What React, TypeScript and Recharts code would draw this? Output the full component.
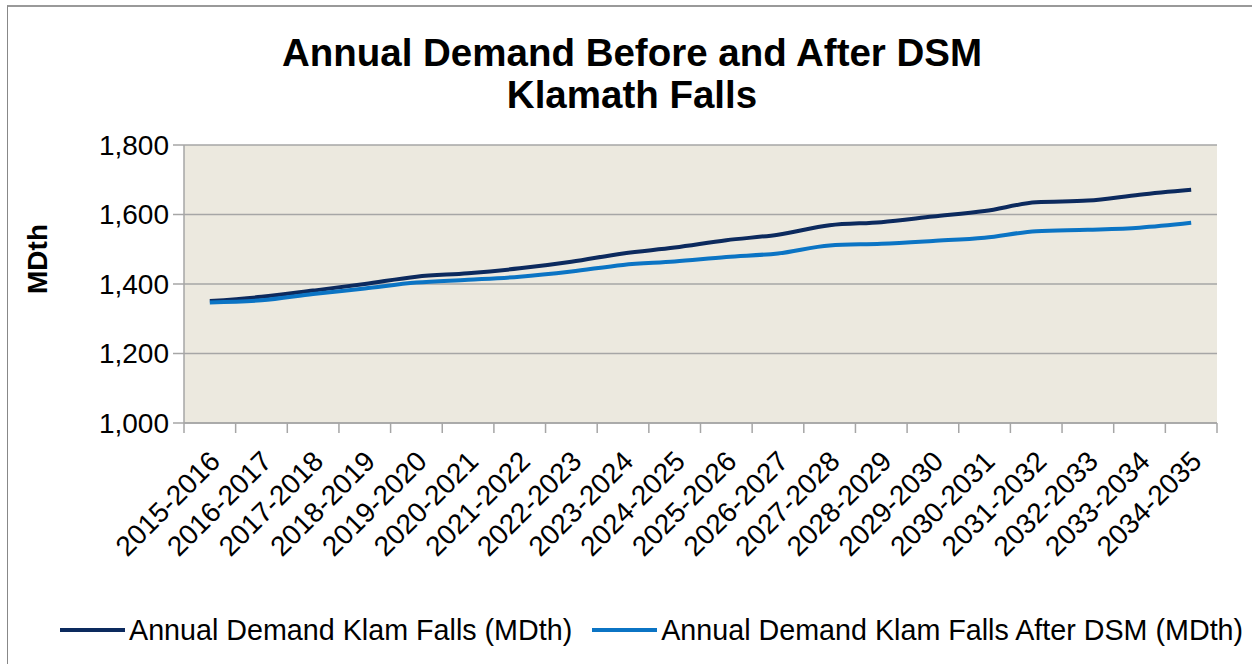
import { LineChart, Line, XAxis, YAxis, CartesianGrid, Legend } from 'recharts'

const periods = [
  '2015-2016', '2016-2017', '2017-2018', '2018-2019', '2019-2020',
  '2020-2021', '2021-2022', '2022-2023', '2023-2024', '2024-2025',
  '2025-2026', '2026-2027', '2027-2028', '2028-2029', '2029-2030',
  '2030-2031', '2031-2032', '2032-2033', '2033-2034', '2034-2035',
]

const demandBefore = [
  1351, 1363, 1381, 1400, 1421, 1431, 1445, 1464, 1488, 1505,
  1526, 1542, 1569, 1578, 1594, 1610, 1635, 1640, 1657, 1671,
]

const demandAfter = [
  1347, 1353, 1371, 1387, 1404, 1412, 1421, 1436, 1455, 1465,
  1478, 1488, 1511, 1516, 1524, 1533, 1552, 1556, 1562, 1576,
]

const yTicks = [1000, 1200, 1400, 1600, 1800]

const FONT = '"Liberation Sans", Arial, sans-serif'
const DARK = '#0C2A5E'
const LIGHT = '#0B74C4'
const GRID = '#A6A6A6'

const W = 1252
const H = 664
const PLOT_BOTTOM = 423
const HALF_BAND = (1217 - 184) / periods.length / 2

const data = periods.map((p, i) => ({
  period: p,
  before: demandBefore[i],
  after: demandAfter[i],
}))

const XTick = ({ x, payload, index }: any) => {
  const last = index === periods.length - 1
  return (
    <g>
      <line x1={x - HALF_BAND} y1={PLOT_BOTTOM} x2={x - HALF_BAND} y2={PLOT_BOTTOM + 10} stroke={GRID} strokeWidth={1.5} />
      {last && (
        <line x1={x + HALF_BAND} y1={PLOT_BOTTOM} x2={x + HALF_BAND} y2={PLOT_BOTTOM + 10} stroke={GRID} strokeWidth={1.5} />
      )}
      <text
        transform={`translate(${x + 12},${PLOT_BOTTOM + 40}) rotate(-45)`}
        textAnchor="end"
        fontSize={28}
        fontFamily={FONT}
        fill="#000"
      >
        {payload.value}
      </text>
    </g>
  )
}

const YLabel = () => (
  <text
    transform="translate(47,259) rotate(-90)"
    textAnchor="middle"
    fontSize={28}
    fontWeight="bold"
    fontFamily={FONT}
    fill="#000"
  >
    MDth
  </text>
)

const LegendContent = () => (
  <div
    style={{
      display: 'flex',
      justifyContent: 'flex-start',
      alignItems: 'center',
      height: 32,
      paddingLeft: 60,
      fontFamily: FONT,
      fontSize: 28.7,
      color: '#000',
      gap: 20,
      whiteSpace: 'nowrap',
    }}
  >
    <div style={{ display: 'flex', alignItems: 'center' }}>
      <span style={{ width: 65, height: 4, background: DARK, marginRight: 4 }} />
      Annual Demand Klam Falls (MDth)
    </div>
    <div style={{ display: 'flex', alignItems: 'center' }}>
      <span style={{ width: 65, height: 4, background: LIGHT, marginRight: 4 }} />
      Annual Demand Klam Falls After DSM (MDth)
    </div>
  </div>
)

export default function App() {
  return (
    <div style={{ position: 'absolute', top: 0, left: 0, width: W, height: H, background: '#fff', overflow: 'hidden' }}>
      {/* chart border (only top/left visible in the source) */}
      <div style={{ position: 'absolute', left: 7, top: 5, width: W, height: H, borderLeft: '1px solid #888', borderTop: '2px solid #999' }} />

      <div
        style={{
          position: 'absolute',
          left: 0,
          width: W + 12,
          top: 32,
          textAlign: 'center',
          fontFamily: FONT,
          fontWeight: 'bold',
          fontSize: 38.5,
          lineHeight: '42px',
          color: '#000',
        }}
      >
        Annual Demand Before and After DSM
        <br />
        Klamath Falls
      </div>

      <LineChart
        width={W}
        height={H}
        data={data}
        margin={{ top: 145, right: 35, left: 0, bottom: 0 }}
        style={{ position: 'absolute', top: 0, left: 0 }}
      >
        <CartesianGrid vertical={false} fill="#ECE9DF" stroke={GRID} strokeWidth={1.5} />
        <XAxis
          dataKey="period"
          interval={0}
          height={191}
          padding={{ left: HALF_BAND, right: HALF_BAND }}
          axisLine={{ stroke: GRID, strokeWidth: 1.5 }}
          tickLine={false}
          tick={<XTick />}
        />
        <YAxis
          width={184}
          domain={[1000, 1800]}
          ticks={yTicks}
          interval={0}
          tickFormatter={(v: number) => v.toLocaleString('en-US')}
          axisLine={{ stroke: GRID, strokeWidth: 1.5 }}
          tickLine={{ stroke: GRID, strokeWidth: 1.5 }}
          tickSize={11}
          tickMargin={4}
          tick={{ fontSize: 28, fontFamily: FONT, fill: '#000' }}
          label={{ content: <YLabel /> }}
        />
        <Legend verticalAlign="bottom" height={50} content={<LegendContent />} />
        <Line
          type="monotone"
          dataKey="before"
          name="Annual Demand Klam Falls (MDth)"
          stroke={DARK}
          strokeWidth={4}
          dot={false}
          isAnimationActive={false}
        />
        <Line
          type="monotone"
          dataKey="after"
          name="Annual Demand Klam Falls After DSM (MDth)"
          stroke={LIGHT}
          strokeWidth={4}
          dot={false}
          isAnimationActive={false}
        />
      </LineChart>
    </div>
  )
}
